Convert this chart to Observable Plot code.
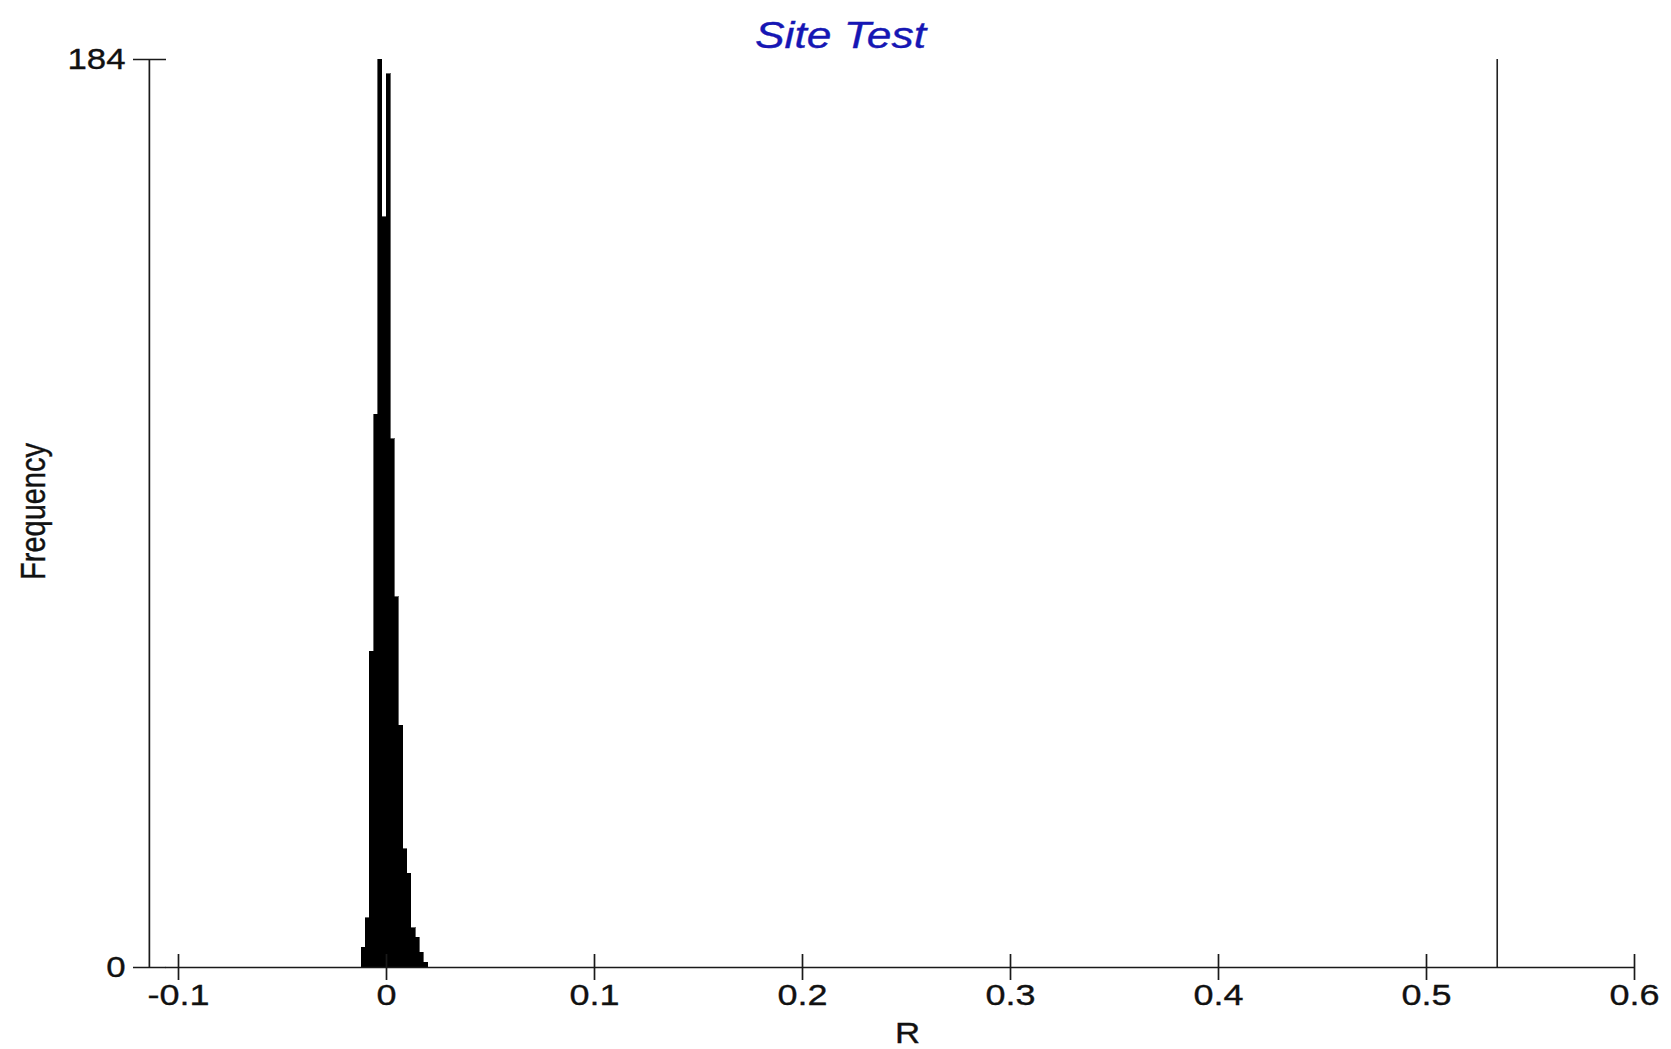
<!DOCTYPE html>
<html>
<head>
<meta charset="utf-8">
<script src="https://cdn.jsdelivr.net/npm/d3@7"></script>
<script src="https://cdn.jsdelivr.net/npm/@observablehq/plot@0.6"></script>
<style>
  html, body { margin: 0; padding: 0; background: #fff; }
  svg { display: block; }
</style>
</head>
<body>
<div id="chart"></div>
<script>
// Histogram bins (R values) and their frequencies
const binStart = [-0.012, -0.010, -0.008, -0.006, -0.004, -0.002, 0.000, 0.002, 0.004, 0.006, 0.008, 0.010, 0.012, 0.014, 0.016, 0.018];
const binEnd   = [-0.010, -0.008, -0.006, -0.004, -0.002, 0.000, 0.002, 0.004, 0.006, 0.008, 0.010, 0.012, 0.014, 0.016, 0.018, 0.020];
const counts   = [4, 10, 64, 112, 184, 152, 181, 107, 75, 49, 24, 19, 8, 6, 3, 1];

// Observed statistic (vertical line)
const observedR = [0.534];

// Axes
const xTicks = [-0.1, 0, 0.1, 0.2, 0.3, 0.4, 0.5, 0.6];
const xTickLabels = ["-0.1", "0", "0.1", "0.2", "0.3", "0.4", "0.5", "0.6"];
const yTicks = [0, 184];
const yAxisAt = [-0.114];
const xAxisSpan = [-0.106, 0.6];

// Texts
const titleText = ["Site Test"];
const xLabel = ["R"];
const yLabel = ["Frequency"];

const bins = counts.map((c, i) => ({x1: binStart[i], x2: binEnd[i], count: c}));
const axisStroke = "#1a1a1a";

const chart = Plot.plot({
  width: 1671,
  height: 1049,
  marginLeft: 178,
  marginRight: 37,
  marginTop: 59,
  marginBottom: 82,
  style: {fontFamily: "'Liberation Sans', Arial, sans-serif", background: "white", color: "#111", fontSize: "30px"},
  x: {domain: [-0.1, 0.6]},
  y: {domain: [0, 184]},
  marks: [
    Plot.rectY(bins, {x1: "x1", x2: "x2", y: "count", fill: "black", stroke: "black", strokeWidth: 0.6, shapeRendering: "crispEdges"}),
    Plot.ruleX(observedR, {y1: 0, y2: 184, stroke: "#222", strokeWidth: 1.6}),
    Plot.ruleY([0], {x1: xAxisSpan[0], x2: xAxisSpan[1], stroke: axisStroke, strokeWidth: 1.7}),
    Plot.ruleX(yAxisAt, {y1: 0, y2: 184, stroke: axisStroke, strokeWidth: 1.7}),
    Plot.tickX(xTicks, {x: d => d, insetTop: 895, insetBottom: -13, stroke: axisStroke, strokeWidth: 1.7}),
    Plot.tickY(yTicks, {y: d => d, insetLeft: -45, insetRight: 1468, stroke: axisStroke, strokeWidth: 1.7}),
    Plot.axisX({ticks: xTicks, tickFormat: d => xTickLabels[xTicks.indexOf(d)], tickSize: 0, tickPadding: 16, fontSize: 30, label: null, fill: "#111"}),
    Plot.axisY({ticks: yTicks, tickFormat: d => String(d), tickSize: 0, tickPadding: 53, fontSize: 29, label: null, fill: "#111"}),
    Plot.text(titleText, {frameAnchor: "top", dx: -66, dy: -12, lineAnchor: "bottom", fontSize: 37, fontStyle: "italic", fill: "#1616b4"}),
    Plot.text(xLabel, {frameAnchor: "bottom", dx: 1, dy: 75, lineAnchor: "bottom", fontSize: 29, fill: "#111"}),
    Plot.text(yLabel, {frameAnchor: "left", dx: -134, dy: -2, rotate: -90, lineAnchor: "bottom", textAnchor: "middle", fontSize: 29, fill: "#111"})
  ]
});

document.getElementById("chart").appendChild(chart);

// The reference image is horizontally stretched: widen every text around its anchor
const SX = 1.2;
chart.querySelectorAll("text").forEach(t => {
  const m = t.transform.baseVal.consolidate();
  const x0 = t.x.baseVal.length ? t.x.baseVal[0].value : 0;
  const ax = m ? m.matrix.a * x0 + m.matrix.e : x0;
  const g = document.createElementNS("http://www.w3.org/2000/svg", "g");
  g.setAttribute("transform", `translate(${ax},0) scale(${SX},1) translate(${-ax},0)`);
  t.parentNode.insertBefore(g, t);
  g.appendChild(t);
  // slightly heavier glyphs, as in the reference
  const fill = t.getAttribute("fill") || getComputedStyle(t).fill || "#111";
  t.style.stroke = fill;
  t.style.strokeWidth = "0.35px";
});
</script>
</body>
</html>
